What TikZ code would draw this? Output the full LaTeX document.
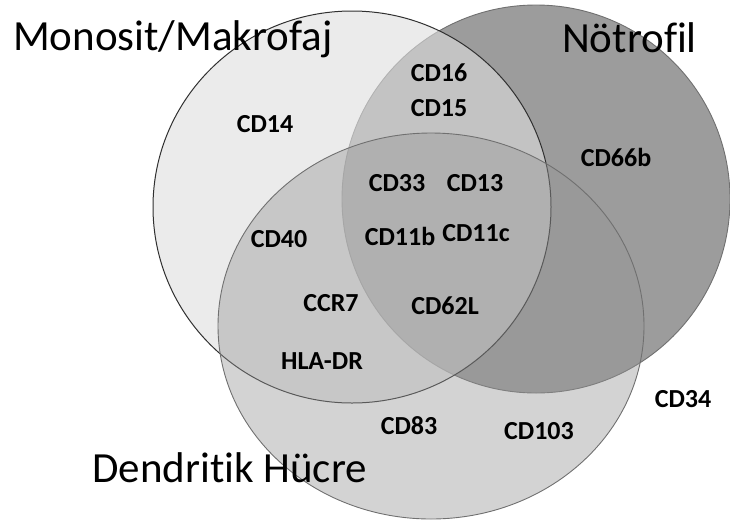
\documentclass[tikz,border=0pt]{standalone}
\usepackage{fontspec}
\setmainfont{Carlito}[Ligatures=NoCommon]
\usepackage{tikz}
\usetikzlibrary{positioning}
\usepackage{xcolor}
\definecolor{neuGray}{HTML}{9C9C9C}
\definecolor{monoGray}{HTML}{DEDEDE}
\definecolor{dcGray}{HTML}{959595}
\definecolor{edgeDark}{HTML}{303030}
\definecolor{edgeMid}{HTML}{707070}

\begin{document}
\begin{tikzpicture}[
    x=1pt, y=-1pt,
    marker/.style={font=\fontsize{26}{30}\selectfont\bfseries, inner sep=0pt},
    setname/.style={font=\fontsize{43}{50}\selectfont, inner sep=0pt, anchor=base west},
]
    \useasboundingbox (0,0) rectangle (730,520);
    % the three sets, painted from back to front
    \draw[edgeMid, line width=0.9pt, fill=neuGray] (536,199) circle[radius=194pt];
    \draw[edgeDark, line width=1pt, fill=monoGray, fill opacity=0.6] (352,207) ellipse[x radius=199pt, y radius=196pt];
    \draw[edgeMid, line width=0.9pt, fill=dcGray, fill opacity=0.41] (431,326) ellipse[x radius=213pt, y radius=193pt];

    % set names
    \node[setname] (mono) at (13,50) {Monosit/Makrofaj};
    \node[setname] (neu) at (562,52) {Nötrofil};
    \node[setname] (dc) at (92,482) {Dendritik Hücre};

    % markers
    \node[marker] (cd14) at (265,124) {CD14};
    \node[marker] (cd16) at (439,73) {CD16};
    \node[marker] (cd15) at (439,108) {CD15};
    \node[marker] (cd66b) at (616,157) {CD66b};
    \node[marker] (cd33) at (397,183) {CD33};
    \node[marker] (cd13) at (475,183) {CD13};
    \node[marker] (cd40) at (279,239) {CD40};
    \node[marker] (cd11b) at (400,236) {CD11b};
    \node[marker] (cd11c) at (476,233) {CD11c};
    \node[marker] (ccr7) at (331,303) {CCR7};
    \node[marker] (cd62l) at (445,306) {CD62L};
    \node[marker] (hladr) at (322,361) {HLA-DR};
    \node[marker] (cd83) at (409,426) {CD83};
    \node[marker] (cd103) at (539,431) {CD103};
    \node[marker] (cd34) at (683,399) {CD34};
\end{tikzpicture}
\end{document}
